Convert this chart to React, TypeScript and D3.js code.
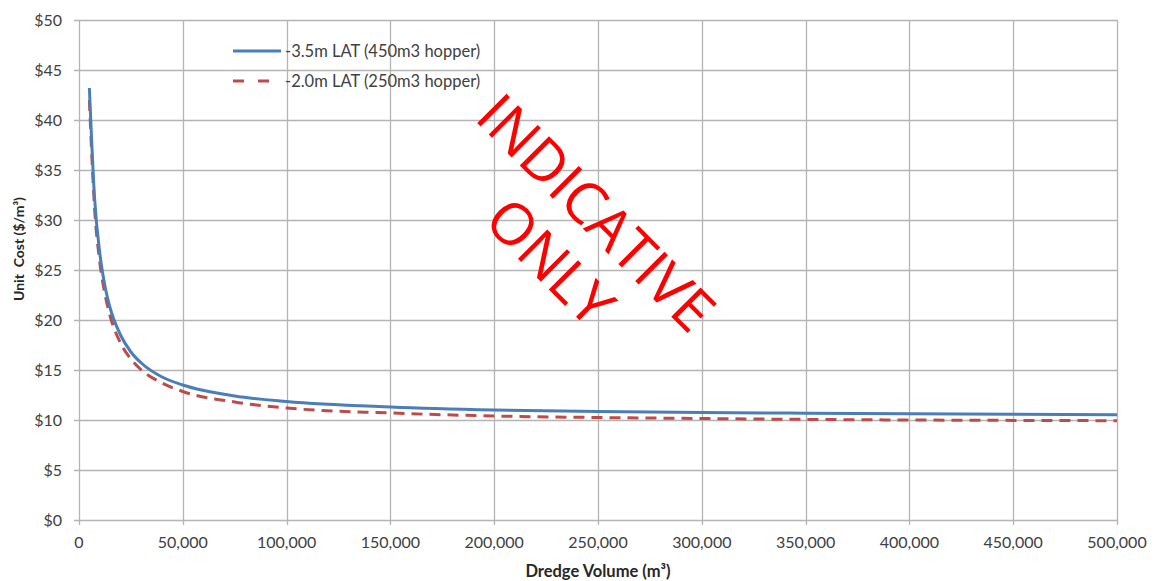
import React, { useEffect, useRef } from 'react';
import * as d3 from 'd3';

// Dredge volume (m3) sample points
const volumes = [5000, 7500, 10000, 12500, 15000, 20000, 25000, 30000, 40000, 50000, 75000, 100000, 150000, 200000, 250000, 300000, 350000, 400000, 450000, 500000];
// -3.5m LAT (450m3 hopper)
const deepCost = [43.2, 32.2, 26.7, 23.4, 21.2, 18.5, 16.8, 15.7, 14.3, 13.5, 12.4, 11.85, 11.3, 11.0, 10.85, 10.75, 10.68, 10.62, 10.57, 10.53];
// -2.0m LAT (250m3 hopper)
const shallowCost = [42.0, 31.2, 25.8, 22.6, 20.4, 17.7, 16.1, 15.0, 13.7, 12.85, 11.8, 11.2, 10.7, 10.4, 10.25, 10.15, 10.06, 10.0, 9.96, 9.93];

const seriesNames = ['-3.5m LAT (450m3 hopper)', '-2.0m LAT (250m3 hopper)'];
const xTicks = [0, 50000, 100000, 150000, 200000, 250000, 300000, 350000, 400000, 450000, 500000];
const yTicks = [0, 5, 10, 15, 20, 25, 30, 35, 40, 45, 50];

const WIDTH = 1154;
const HEIGHT = 581;
const margin = { top: 20, right: 37, bottom: 61, left: 79 };
const FONT = 'Lato, "Open Sans", sans-serif';
const TEXT = '#404040';

const App: React.FC = () => {
  const svgRef = useRef<SVGSVGElement>(null);

  useEffect(() => {
    if (!svgRef.current) return;
    const svg = d3.select(svgRef.current);
    svg.selectAll('*').remove();

    const innerW = WIDTH - margin.left - margin.right;
    const innerH = HEIGHT - margin.top - margin.bottom;

    const x = d3.scaleLinear().domain([0, 500000]).range([0, innerW]);
    const y = d3.scaleLinear().domain([0, 50]).range([innerH, 0]);

    const g = svg.append('g').attr('transform', `translate(${margin.left},${margin.top})`);

    // gridlines
    g.append('g')
      .selectAll('line')
      .data(yTicks)
      .join('line')
      .attr('x1', -5)
      .attr('x2', innerW)
      .attr('y1', d => Math.round(y(d)) + 0.5)
      .attr('y2', d => Math.round(y(d)) + 0.5)
      .attr('stroke', '#b4b4b4')
      .attr('stroke-width', 1.3);

    g.append('g')
      .selectAll('line')
      .data(xTicks)
      .join('line')
      .attr('x1', d => Math.round(x(d)) + 0.5)
      .attr('x2', d => Math.round(x(d)) + 0.5)
      .attr('y1', 0)
      .attr('y2', innerH + 5)
      .attr('stroke', '#b4b4b4')
      .attr('stroke-width', 1.3);

    // y tick labels
    g.append('g')
      .selectAll('text')
      .data(yTicks)
      .join('text')
      .attr('x', -17)
      .attr('y', d => y(d))
      .attr('dy', '0.35em')
      .attr('text-anchor', 'end')
      .attr('font-family', FONT)
      .attr('font-size', 16)
      .attr('fill', TEXT)
      .text(d => `$${d}`);

    // x tick labels
    const fmt = d3.format(',');
    g.append('g')
      .selectAll('text')
      .data(xTicks)
      .join('text')
      .attr('x', d => x(d))
      .attr('y', innerH + 28)
      .attr('text-anchor', 'middle')
      .attr('font-family', FONT)
      .attr('font-size', 16)
      .attr('fill', TEXT)
      .text(d => fmt(d));

    // lines
    const line = d3.line<number>()
      .x((_, i) => x(volumes[i]))
      .y(d => y(d))
      .curve(d3.curveMonotoneX);

    g.append('path')
      .datum(shallowCost)
      .attr('fill', 'none')
      .attr('stroke', '#be4b48')
      .attr('stroke-width', 3)
      .attr('stroke-dasharray', '11,7')
      .attr('d', line as any);

    g.append('path')
      .datum(deepCost)
      .attr('fill', 'none')
      .attr('stroke', '#4a7ebb')
      .attr('stroke-width', 3)
      .attr('d', line as any);

    // legend
    const legend = svg.append('g').attr('transform', 'translate(233,51)');
    seriesNames.forEach((name, i) => {
      const row = legend.append('g').attr('transform', `translate(0,${i * 30})`);
      row.append('line')
        .attr('x1', 0)
        .attr('x2', 48)
        .attr('y1', 0)
        .attr('y2', 0)
        .attr('stroke', i === 0 ? '#4a7ebb' : '#be4b48')
        .attr('stroke-width', 3)
        .attr('stroke-dasharray', i === 0 ? null : '11,14');
      row.append('text')
        .attr('x', 52)
        .attr('y', 0)
        .attr('dy', '0.35em')
        .attr('font-family', FONT)
        .attr('font-size', 16.5)
        .attr('fill', TEXT)
        .text(name);
    });

    // axis titles
    svg.append('text')
      .attr('transform', `translate(24,249) rotate(-90)`)
      .attr('text-anchor', 'middle')
      .attr('font-family', FONT)
      .attr('font-size', 14)
      .attr('font-weight', 'bold')
      .attr('fill', '#262626')
      .attr('xml:space', 'preserve')
      .text('Unit  Cost ($/m³)');

    svg.append('text')
      .attr('x', 598)
      .attr('y', 577)
      .attr('text-anchor', 'middle')
      .attr('font-family', FONT)
      .attr('font-size', 16.5)
      .attr('font-weight', 'bold')
      .attr('fill', '#262626')
      .text('Dredge Volume (m³)');

    // watermark
    const wm = [
      { text: 'INDICATIVE', cx: 596, cy: 213 },
      { text: 'ONLY', cx: 550, cy: 262 },
    ];
    wm.forEach(w => {
      svg.append('text')
        .attr('transform', `translate(${w.cx},${w.cy}) rotate(45)`)
        .attr('text-anchor', 'middle')
        .attr('dy', '0.35em')
        .attr('font-family', '"Open Sans", sans-serif')
        .attr('font-weight', 400)
        .attr('font-size', 58)
        .attr('fill', '#ff0000')
        .text(w.text);
    });
  }, []);

  return (
    <svg
      ref={svgRef}
      width={WIDTH}
      height={HEIGHT}
      style={{ position: 'absolute', left: 0, top: 0, background: '#fff' }}
    />
  );
};

export default App;
